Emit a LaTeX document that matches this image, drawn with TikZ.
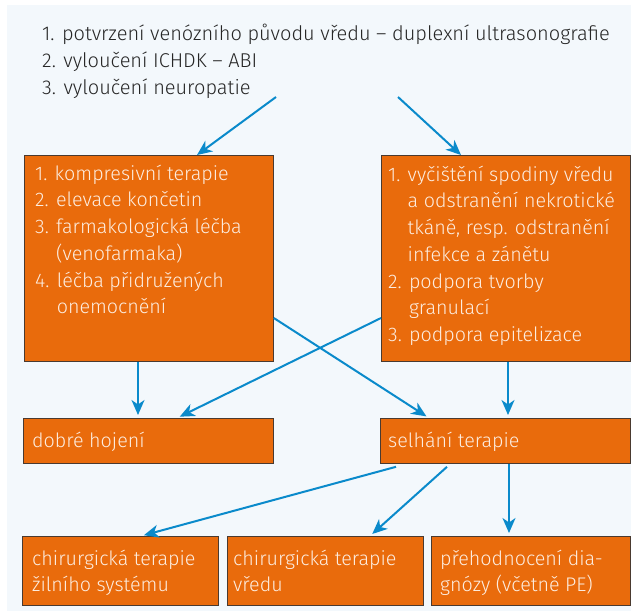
\documentclass[tikz,border=0pt]{standalone}
\usepackage{fontspec}
\setmainfont{Fira Sans}[UprightFont=* Light]
\usetikzlibrary{arrows.meta,calc}
\definecolor{bg}{HTML}{F3F8FC}
\definecolor{org}{HTML}{E96B0C}
\definecolor{arr}{HTML}{0A8ACB}
\definecolor{txt}{HTML}{FDEDE0}
\definecolor{bord}{HTML}{4A3A30}
\newcommand{\ind}[1]{\phantom{#1}}
\newcommand{\fst}{\rule{0pt}{20pt}}
\begin{document}
\begin{tikzpicture}[x=1pt,y=-1pt,
  box/.style={draw=bord, line width=0.8pt, fill=org, anchor=north west, inner sep=0pt},
  boxtext/.style={text=txt, align=left, anchor=north west, inner sep=0pt,
    font=\fontsize{19.7}{26.7}\selectfont},
  toptext/.style={text=black!85, align=left, anchor=north west, inner sep=0pt,
    font=\fontsize{20}{27}\selectfont},
  conn/.style={draw=arr, line width=2pt, shorten >=3pt,
    -{Stealth[length=15pt,width=13pt,inset=4.5pt]}}]
\useasboundingbox (0,0) rectangle (631,611);
\fill[bg] (7,5) rectangle (631,611);

\node[toptext] (top) at (42,20) {\fst 1. potvrzení venózního původu vředu – duplexní ultrasonografie\\
2. vyloučení ICHDK – ABI\\
3. vyloučení neuropatie};

\node[box, minimum width=249pt, minimum height=206pt] (box1) at (24,155) {};
\node[box, minimum width=249pt, minimum height=206pt] (box2) at (381,155) {};
\node[box, minimum width=250pt, minimum height=45pt] (dobre) at (23,418) {};
\node[box, minimum width=250pt, minimum height=45pt] (selh) at (380,418) {};
\node[box, minimum width=196pt, minimum height=69pt] (ba) at (22,536) {};
\node[box, minimum width=196pt, minimum height=69pt] (bb) at (227,536) {};
\node[box, minimum width=199pt, minimum height=69pt] (bc) at (431,536) {};

\node[boxtext] (t1) at ($(box1.north west)+(11,5)$) {\fst 1. kompresivní terapie\\
2. elevace končetin\\
3. farmakologická léčba\\
\ind{3. }(venofarmaka)\\
4. léčba přidružených\\
\ind{4. }onemocnění};
\node[boxtext] (t2) at ($(box2.north west)+(7,6)$) {\fst 1. vyčištění spodiny vředu\\
\ind{1. }a odstranění nekrotické\\
\ind{1. }tkáně, resp. odstranění\\
\ind{1. }infekce a zánětu\\
2. podpora tvorby\\
\ind{2. }granulací\\
3. podpora epitelizace};
\node[boxtext] (t3) at ($(dobre.north west)+(9,9)$) {\fst dobré hojení};
\node[boxtext] (t4) at ($(selh.north west)+(8,9)$) {\fst selhání terapie};
\node[boxtext] (t5) at ($(ba.north west)+(10,9)$) {\fst chirurgická terapie\\žilního systému};
\node[boxtext] (t6) at ($(bb.north west)+(6,9)$) {\fst chirurgická terapie\\vředu};
\node[boxtext] (t7) at ($(bc.north west)+(9,9)$) {\fst přehodnocení dia-\\gnózy (včetně PE)};

\coordinate (s1) at (276,97);
\coordinate (s2) at (398,97);
\draw[conn, shorten >=0pt] (s1) -- ($(box1.north west)+(173,0)$);
\draw[conn, shorten >=0pt] (s2) -- ($(box2.north west)+(80,0)$);
\draw[conn] ($(box1.south west)+(114,0)$) -- ($(dobre.north west)+(115,0)$);
\draw[conn] ($(box2.north west)+(0,163)$) -- ($(dobre.north west)+(154,0)$);
\draw[conn] ($(box1.north east)+(0,163)$) -- ($(selh.north west)+(49,0)$);
\draw[conn] ($(box2.south west)+(127,0)$) -- ($(selh.north west)+(128,0)$);
\draw[conn] ($(selh.south west)+(16,3)$) -- ($(ba.north west)+(119,0)$);
\draw[conn] ($(selh.south west)+(67,3)$) -- ($(bb.north west)+(143,0)$);
\draw[conn] ($(selh.south west)+(129,0)$) -- ($(bc.north west)+(78,0)$);
\end{tikzpicture}
\end{document}
